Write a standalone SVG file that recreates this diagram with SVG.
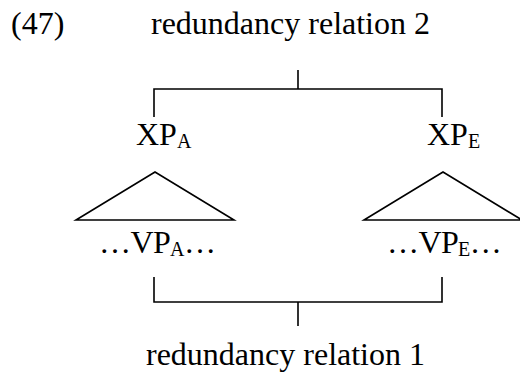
<svg xmlns="http://www.w3.org/2000/svg" width="520" height="374" viewBox="0 0 520 374">
<style>
text{font-family:"Liberation Serif","Times New Roman",serif;font-size:32px;fill:#000}
.sub{font-size:20px}
.ln{fill:none;stroke:#000;stroke-width:1.6}
</style>
<rect width="520" height="374" fill="#fff"/>
<g id="label47"><text x="11" y="34">(47)</text></g>
<g id="rel2"><text x="151" y="34">redundancy relation 2</text></g>
<g id="xpa"><text x="136" y="145">XP<tspan class="sub" dy="3">A</tspan></text></g>
<g id="xpe"><text x="427" y="145">XP<tspan class="sub" dy="3">E</tspan></text></g>
<g id="tria"><polygon class="ln" points="155,172 76,220 234,220"/></g>
<g id="trie"><polygon class="ln" points="443,172 364,220 522,220"/></g>
<g id="vpa"><text x="99" y="253" letter-spacing="-0.6">…VP<tspan class="sub" dy="3">A</tspan><tspan dy="-3">…</tspan></text></g>
<g id="vpe"><text x="387" y="253" letter-spacing="-0.6">…VP<tspan class="sub" dy="3">E</tspan><tspan dy="-3">…</tspan></text></g>
<g id="rel1"><text x="146" y="365">redundancy relation 1</text></g>
<g id="connectors">
<path class="ln" d="M298,70 V89 M154,117 V89 H442 V117"/>
<path class="ln" d="M154,277 V302 H442 V277 M298,302 V326"/>
</g>
</svg>
